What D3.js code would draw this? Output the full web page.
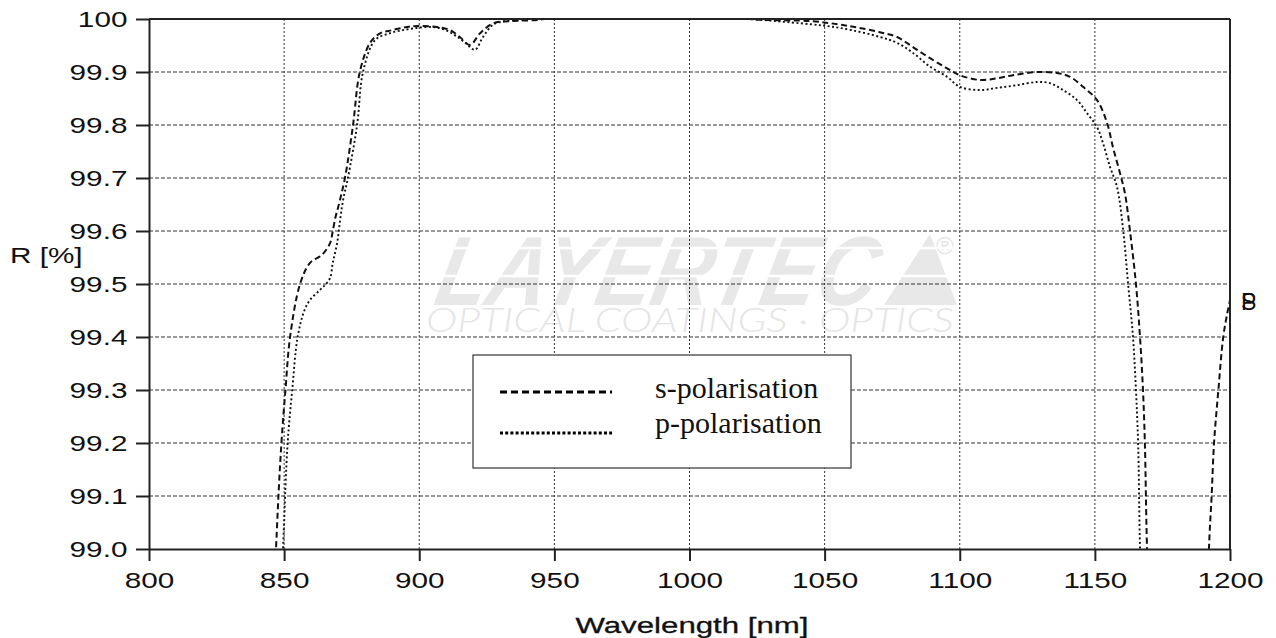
<!DOCTYPE html>
<html>
<head>
<meta charset="utf-8">
<script src="https://cdn.jsdelivr.net/npm/d3@7"></script>
<style>
  body { margin: 0; background: #fff; }
  svg { display: block; }
</style>
</head>
<body>
<svg width="1276" height="638"></svg>
<script>
// wavelength [nm] and reflectance [%]
var sWl = [840, 847, 849, 850.5, 852.2, 855.9, 859.6, 864, 867, 868, 869, 870, 872.5, 875.5, 878, 881.8, 885.5,
  890, 895.5, 900, 906.5, 911.4, 915, 918.8, 922.5, 927.4, 933.6, 945, 955, 1000, 1015, 1025, 1045, 1055,
  1062, 1070.5, 1076.8, 1082.7, 1089, 1095.3, 1100, 1107.5, 1113.8, 1119.7, 1128.5, 1136, 1140.8, 1145.6,
  1150.8, 1154.5, 1156.7, 1159.3, 1161.1, 1163, 1165.2, 1166.7, 1167.8, 1168.5, 1169.3, 1172, 1182, 1190,
  1192.2, 1193.2, 1194.1, 1195.7, 1197.5, 1199, 1200, 1203];
var sR = [98.0, 99.0, 99.2, 99.3, 99.4, 99.5, 99.54, 99.555, 99.577, 99.6, 99.626, 99.645, 99.7, 99.8, 99.9, 99.955, 99.973,
  99.979, 99.985, 99.987, 99.985, 99.979, 99.966, 99.951, 99.973, 99.992, 99.996, 99.999, 100.01, 100.03, 100.005, 99.999, 99.996, 99.99,
  99.984, 99.975, 99.966, 99.947, 99.926, 99.907, 99.894, 99.885, 99.888, 99.894, 99.9, 99.898, 99.891, 99.872,
  99.847, 99.804, 99.758, 99.709, 99.672, 99.6, 99.5, 99.4, 99.3, 99.2, 99.0, 98.6, 98.0, 98.6,
  99.0, 99.1, 99.2, 99.3, 99.4, 99.445, 99.47, 99.6];

var pWl = [842, 849.6, 851.3, 853, 855, 857.5, 859.6, 863.3, 865.1, 867, 868, 869.6, 870.7, 871.8, 873.6, 877, 879.2,
  883.6, 889, 894, 899, 904, 908.8, 913, 917, 920.6, 923.6, 927.3, 933, 940, 950, 1000, 1018, 1030, 1045, 1052,
  1060, 1070.5, 1076.8, 1082.7, 1089, 1095.3, 1100, 1107.5, 1113.8, 1121, 1128.5, 1133.4, 1138.2, 1143.4,
  1147, 1150.8, 1153, 1155.6, 1158.2, 1160.5, 1162.3, 1164.1, 1165.2, 1166, 1166.7, 1170, 1185, 1200, 1205];
var pR = [98.0, 99.0, 99.2, 99.3, 99.4, 99.45, 99.47, 99.489, 99.498, 99.511, 99.54, 99.577, 99.62, 99.658, 99.7, 99.8, 99.9,
  99.96, 99.973, 99.979, 99.983, 99.985, 99.981, 99.97, 99.955, 99.942, 99.966, 99.989, 99.997, 100.0, 100.01, 100.03, 100.003, 99.997, 99.99, 99.986,
  99.979, 99.966, 99.955, 99.936, 99.91, 99.891, 99.872, 99.866, 99.87, 99.875, 99.881, 99.879, 99.866, 99.847,
  99.823, 99.796, 99.766, 99.721, 99.683, 99.6, 99.5, 99.4, 99.3, 99.2, 99.0, 98.4, 97.5, 98.5, 99.0];

var xTicks = [800, 850, 900, 950, 1000, 1050, 1100, 1150, 1200];
var yTicks = [99.0, 99.1, 99.2, 99.3, 99.4, 99.5, 99.6, 99.7, 99.8, 99.9, 100];
var yTickLabels = ["99.0", "99.1", "99.2", "99.3", "99.4", "99.5", "99.6", "99.7", "99.8", "99.9", "100"];
var seriesNames = ["s-polarisation", "p-polarisation"];
var endLabels = ["S", "P"];

var svg = d3.select("svg");
var pLeft = 149, pRight = 1230, pTop = 19, pBottom = 549;
var stretch = 1.35;

var x = d3.scaleLinear().domain([800, 1200]).range([pLeft, pRight]);
var y = d3.scaleLinear().domain([99, 100]).range([pBottom, pTop]);

svg.append("rect").attr("width", 1276).attr("height", 638).attr("fill", "#fff");

// watermark
var wm = svg.append("g").attr("class", "watermark");
wm.append("text")
  .attr("x", 432).attr("y", 305)
  .attr("transform", "translate(0,305) skewX(-12) translate(0,-305)")
  .attr("font-family", "Liberation Sans, Arial, sans-serif")
  .attr("font-weight", "bold").attr("font-style", "italic")
  .attr("font-size", 98)
  .attr("textLength", 440).attr("lengthAdjust", "spacingAndGlyphs")
  .attr("fill", "#e8e8e8")
  .text("LAYERTEC");
wm.append("polygon")
  .attr("points", "884,305 930,234 957,305")
  .attr("fill", "#e8e8e8");
wm.append("text")
  .attr("x", 936).attr("y", 254)
  .attr("font-family", "Liberation Sans, Arial, sans-serif")
  .attr("font-size", 24).attr("fill", "#e4e4e4")
  .text("\u00AE");
[248, 276].forEach(function(yy) {
  wm.append("line").attr("x1", 420).attr("x2", 965).attr("y1", yy).attr("y2", yy)
    .attr("stroke", "#fff").attr("stroke-width", 2.5);
});
wm.append("text")
  .attr("x", 426).attr("y", 332)
  .attr("font-family", "Lato, Open Sans, sans-serif")
  .attr("font-weight", 300).attr("font-style", "italic")
  .attr("font-size", 33)
  .attr("textLength", 528).attr("lengthAdjust", "spacingAndGlyphs")
  .attr("fill", "#e5e5e5")
  .text("OPTICAL COATINGS \u00B7 OPTICS");

// grid
var grid = svg.append("g").attr("class", "grid");
grid.selectAll("line.h")
  .data(yTicks.slice(1, -1))
  .enter().append("line")
  .attr("x1", pLeft).attr("x2", pRight)
  .attr("y1", function(d) { return y(d); }).attr("y2", function(d) { return y(d); })
  .attr("stroke", "#333").attr("stroke-width", 1).attr("stroke-dasharray", "4,2");
grid.selectAll("line.v")
  .data(xTicks.slice(1, -1))
  .enter().append("line")
  .attr("y1", pTop).attr("y2", pBottom)
  .attr("x1", function(d) { return x(d); }).attr("x2", function(d) { return x(d); })
  .attr("stroke", "#333").attr("stroke-width", 1).attr("stroke-dasharray", "2,2");

// curves
svg.append("clipPath").attr("id", "plotclip")
  .append("rect").attr("x", pLeft).attr("y", pTop).attr("width", pRight - pLeft).attr("height", pBottom - pTop);

var line = d3.line()
  .x(function(d) { return x(d[0]); })
  .y(function(d) { return y(d[1]); })
  .curve(d3.curveCatmullRom.alpha(0.5));

var sData = sWl.map(function(w, i) { return [w, sR[i]]; });
var pData = pWl.map(function(w, i) { return [w, pR[i]]; });

var curves = svg.append("g").attr("clip-path", "url(#plotclip)");
curves.append("path").datum(pData)
  .attr("d", line).attr("fill", "none")
  .attr("stroke", "#111").attr("stroke-width", 1.9).attr("stroke-dasharray", "2,2.5");
curves.append("path").datum(sData)
  .attr("d", line).attr("fill", "none")
  .attr("stroke", "#111").attr("stroke-width", 2).attr("stroke-dasharray", "6,3.5");

// frame + axes
svg.append("line").attr("x1", pLeft).attr("x2", pRight).attr("y1", pTop).attr("y2", pTop)
  .attr("stroke", "#222").attr("stroke-width", 2);
svg.append("line").attr("x1", pRight).attr("x2", pRight).attr("y1", pTop).attr("y2", pBottom)
  .attr("stroke", "#222").attr("stroke-width", 2);

var yAxis = svg.append("g")
  .attr("transform", "translate(" + pLeft + ",0)")
  .call(d3.axisLeft(y).tickValues(yTicks)
    .tickFormat(function(d, i) { return yTickLabels[i]; })
    .tickSize(13).tickSizeOuter(0).tickPadding(3));

var xAxis = svg.append("g")
  .attr("transform", "translate(0," + pBottom + ")")
  .call(d3.axisBottom(x).tickValues(xTicks)
    .tickFormat(d3.format("d"))
    .tickSize(12).tickSizeOuter(0).tickPadding(11));

[yAxis, xAxis].forEach(function(ax) {
  ax.select(".domain").attr("stroke", "#222").attr("stroke-width", 2);
  ax.selectAll(".tick line").attr("stroke", "#222").attr("stroke-width", 2);
  ax.selectAll(".tick text")
    .attr("fill", "#111")
    .attr("font-family", "Liberation Sans, Arial, sans-serif")
    .attr("font-size", 22)
    .attr("transform", "scale(" + stretch + ",1)");
});
yAxis.selectAll(".tick text").attr("x", -16);

svg.append("text")
  .attr("x", 10 / stretch).attr("y", 263)
  .attr("transform", "scale(" + stretch + ",1)")
  .attr("font-family", "Liberation Sans, Arial, sans-serif")
  .attr("font-size", 22).attr("fill", "#111")
  .text("R [%]");

svg.append("text")
  .attr("x", 692 / 1.42).attr("y", 633)
  .attr("transform", "scale(1.42,1)")
  .attr("text-anchor", "middle")
  .attr("font-family", "Liberation Sans, Arial, sans-serif")
  .attr("font-size", 22).attr("fill", "#111")
  .attr("stroke", "#111").attr("stroke-width", 0.3)
  .text("Wavelength [nm]");

// end labels at the right edge
var lastS = sData.filter(function(d) { return d[0] <= 1200; }).pop();
endLabels.forEach(function(t) {
  svg.append("text")
    .attr("x", 1241).attr("y", y(lastS[1]) + 10)
    .attr("font-family", "Liberation Sans, Arial, sans-serif")
    .attr("font-size", 23).attr("fill", "#111")
    .text(t);
});

// legend
var lg = svg.append("g").attr("class", "legend");
lg.append("rect")
  .attr("x", 473).attr("y", 355).attr("width", 378).attr("height", 113)
  .attr("fill", "#fff").attr("stroke", "#333").attr("stroke-width", 1.2);
var dashes = ["7,4", "3,2.2"];
seriesNames.forEach(function(name, i) {
  var yy = 392 + i * 41;
  lg.append("line")
    .attr("x1", 500).attr("x2", 612).attr("y1", yy).attr("y2", yy)
    .attr("stroke", "#000").attr("stroke-width", 3).attr("stroke-dasharray", dashes[i]);
  lg.append("text")
    .attr("x", 655).attr("y", 398 + i * 35)
    .attr("font-family", "Liberation Serif, Times New Roman, serif")
    .attr("font-size", 30).attr("fill", "#111")
    .text(name);
});
</script>
</body>
</html>
